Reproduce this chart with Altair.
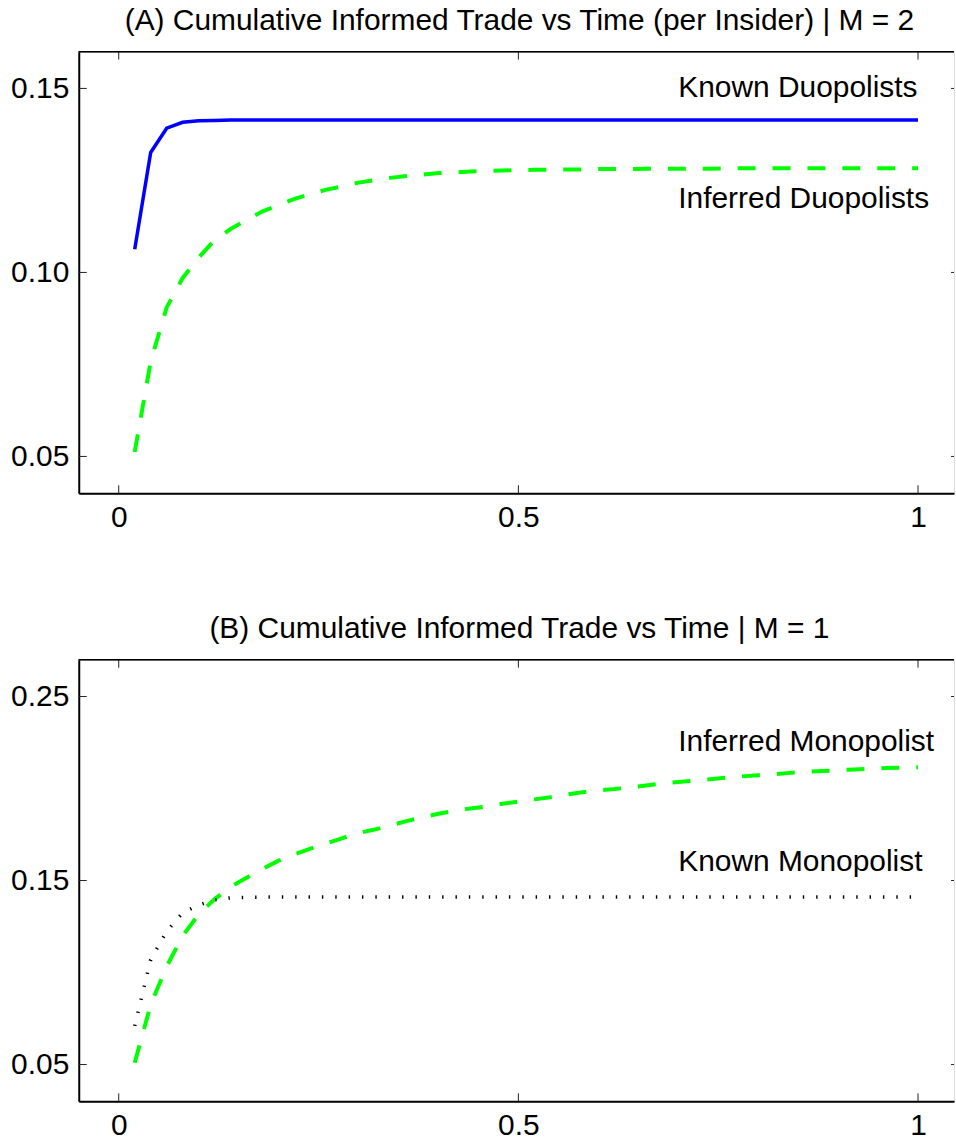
import altair as alt
import pandas as pd

# ---------------- data ----------------
T = [0.02, 0.04, 0.06, 0.08, 0.10, 0.12, 0.14, 0.16, 0.18, 0.20,
     0.22, 0.24, 0.26, 0.28, 0.30, 0.32, 0.34, 0.36, 0.38, 0.40,
     0.42, 0.44, 0.46, 0.48, 0.50, 0.52, 0.54, 0.56, 0.58, 0.60,
     0.62, 0.64, 0.66, 0.68, 0.70, 0.72, 0.74, 0.76, 0.78, 0.80,
     0.82, 0.84, 0.86, 0.88, 0.90, 0.92, 0.94, 0.96, 0.98, 1.00]

KNOWN_DUOPOLISTS = [0.1063, 0.1326, 0.1392, 0.1408, 0.1412, 0.1413, 0.1414, 0.1414, 0.1414, 0.1414,
                    0.1414, 0.1414, 0.1414, 0.1414, 0.1414, 0.1414, 0.1414, 0.1414, 0.1414, 0.1414,
                    0.1414, 0.1414, 0.1414, 0.1414, 0.1414, 0.1414, 0.1414, 0.1414, 0.1414, 0.1414,
                    0.1414, 0.1414, 0.1414, 0.1414, 0.1414, 0.1414, 0.1414, 0.1414, 0.1414, 0.1414,
                    0.1414, 0.1414, 0.1414, 0.1414, 0.1414, 0.1414, 0.1414, 0.1414, 0.1414, 0.1414]

INFERRED_DUOPOLISTS = [0.0512, 0.0758, 0.0905, 0.0985, 0.1040, 0.1088, 0.1118, 0.1143, 0.1166, 0.1183,
                       0.1200, 0.1213, 0.1225, 0.1234, 0.1244, 0.1251, 0.1257, 0.1262, 0.1266, 0.1270,
                       0.1272, 0.1274, 0.1276, 0.1277, 0.1278, 0.1279, 0.1279, 0.1280, 0.1280, 0.1281,
                       0.1281, 0.1281, 0.1282, 0.1282, 0.1282, 0.1282, 0.1282, 0.1283, 0.1283, 0.1283,
                       0.1283, 0.1283, 0.1283, 0.1283, 0.1283, 0.1283, 0.1283, 0.1283, 0.1283, 0.1283]

INFERRED_MONOPOLIST = [0.0510, 0.0825, 0.1033, 0.1200, 0.1316, 0.1399, 0.1466, 0.1515, 0.1563, 0.1608,
                       0.1643, 0.1673, 0.1702, 0.1731, 0.1758, 0.1777, 0.1799, 0.1823, 0.1844, 0.1863,
                       0.1878, 0.1892, 0.1902, 0.1917, 0.1929, 0.1941, 0.1953, 0.1967, 0.1980, 0.1990,
                       0.1997, 0.2006, 0.2017, 0.2028, 0.2035, 0.2043, 0.2051, 0.2059, 0.2066, 0.2072,
                       0.2078, 0.2085, 0.2091, 0.2095, 0.2099, 0.2104, 0.2108, 0.2111, 0.2114, 0.2116]

KNOWN_MONOPOLIST = [0.0710, 0.1070, 0.1224, 0.1325, 0.1367, 0.1395, 0.1406, 0.1409, 0.1410, 0.1410,
                    0.1410, 0.1410, 0.1410, 0.1410, 0.1410, 0.1410, 0.1410, 0.1410, 0.1410, 0.1410,
                    0.1410, 0.1410, 0.1410, 0.1410, 0.1410, 0.1410, 0.1410, 0.1410, 0.1410, 0.1410,
                    0.1410, 0.1410, 0.1410, 0.1410, 0.1410, 0.1410, 0.1410, 0.1410, 0.1410, 0.1410,
                    0.1410, 0.1410, 0.1410, 0.1410, 0.1410, 0.1410, 0.1410, 0.1410, 0.1410, 0.1410]

X_TICKS = [0, 0.5, 1]
Y_TICKS_A = [0.05, 0.10, 0.15]
Y_TICKS_B = [0.05, 0.15, 0.25]
X_DOMAIN = [-0.05, 1.045]
Y_DOMAIN_A = [0.04, 0.16]
Y_DOMAIN_B = [0.03, 0.27]

TITLE_A = "(A) Cumulative Informed Trade vs Time (per Insider) | M = 2"
TITLE_B = "(B) Cumulative Informed Trade vs Time | M = 1"
LABELS_A = ["Known Duopolists", "Inferred Duopolists"]
LABEL_POS_A = [(0.7, 0.15), (0.7, 0.12)]
LABELS_B = ["Inferred Monopolist", "Known Monopolist"]
LABEL_POS_B = [(0.7, 0.225), (0.7, 0.16)]

# ---------------- styling ----------------
FONT = "Liberation Sans"
FS = 30
W, H = 878, 443
TICK = 8


def panel(title, series, ydomain, yticks, labels, label_pos):
    xscale = alt.Scale(domain=X_DOMAIN, nice=False, zero=False)
    yscale = alt.Scale(domain=ydomain, nice=False, zero=False)
    xaxis = alt.Axis(values=X_TICKS, format="~g", title=None, grid=False, ticks=False, tickSize=0,
                     domainWidth=2, domainColor="black", labelFontSize=FS, labelPadding=9,
                     labelColor="black", labelFont=FONT)
    yaxis = alt.Axis(values=yticks, format=".2f", title=None, grid=False, ticks=False, tickSize=0,
                     domainWidth=2, domainColor="black", labelFontSize=FS, labelPadding=10,
                     labelColor="black", labelFont=FONT)

    def X():
        return alt.X("t:Q", scale=xscale, axis=xaxis)

    def Y():
        return alt.Y("v:Q", scale=yscale, axis=yaxis)

    layers = []
    for vals, style in series:
        df = pd.DataFrame({"t": T, "v": vals})
        layers.append(alt.Chart(df).mark_line(**style).encode(x=X(), y=Y()))

    xt = pd.DataFrame({"t": X_TICKS})
    yt = pd.DataFrame({"v": yticks})
    tick_style = dict(color="#222222", strokeWidth=1)
    layers.append(alt.Chart(xt).mark_rule(**tick_style).encode(x=X(), y=alt.value(H), y2=alt.value(H - TICK)))
    layers.append(alt.Chart(xt).mark_rule(**tick_style).encode(x=X(), y=alt.value(0), y2=alt.value(TICK)))
    layers.append(alt.Chart(yt).mark_rule(**tick_style).encode(y=Y(), x=alt.value(0), x2=alt.value(TICK)))
    layers.append(alt.Chart(yt).mark_rule(**tick_style).encode(y=Y(), x=alt.value(W - 3), x2=alt.value(W)))
    # top frame line
    layers.append(alt.Chart(xt).mark_rule(color="black", strokeWidth=1.3).encode(
        x=alt.value(0), x2=alt.value(W), y=alt.value(0)))

    ldf = pd.DataFrame({"t": [p[0] for p in label_pos], "v": [p[1] for p in label_pos], "txt": labels})
    layers.append(alt.Chart(ldf).mark_text(align="left", baseline="middle", fontSize=FS, font=FONT,
                                           color="black").encode(x=X(), y=Y(), text="txt:N"))

    return alt.layer(*layers).properties(
        width=W, height=H,
        title=alt.TitleParams(title, fontSize=FS, font=FONT, fontWeight="normal", color="black",
                              anchor="middle", offset=15, dx=3),
    )


solid_blue = dict(color="#0000ff", strokeWidth=3.5)
dashed_green = dict(color="#00ff00", strokeWidth=4, strokeDash=[18, 17])
dotted_black = dict(color="black", strokeWidth=3.5, strokeDash=[1.4, 12], strokeCap="butt")

pa = panel(TITLE_A, [(KNOWN_DUOPOLISTS, solid_blue), (INFERRED_DUOPOLISTS, dashed_green)],
           Y_DOMAIN_A, Y_TICKS_A, LABELS_A, LABEL_POS_A)
pb = panel(TITLE_B, [(INFERRED_MONOPOLIST, dashed_green), (KNOWN_MONOPOLIST, dotted_black)],
           Y_DOMAIN_B, Y_TICKS_B, LABELS_B, LABEL_POS_B)

chart = alt.vconcat(pa, pb, spacing=80).properties(
    padding={"left": 10, "top": 3, "right": 0, "bottom": 0}
).configure_view(stroke=None).configure(font=FONT)

chart.save("out.html", embed_options={"renderer": "svg", "actions": False})
